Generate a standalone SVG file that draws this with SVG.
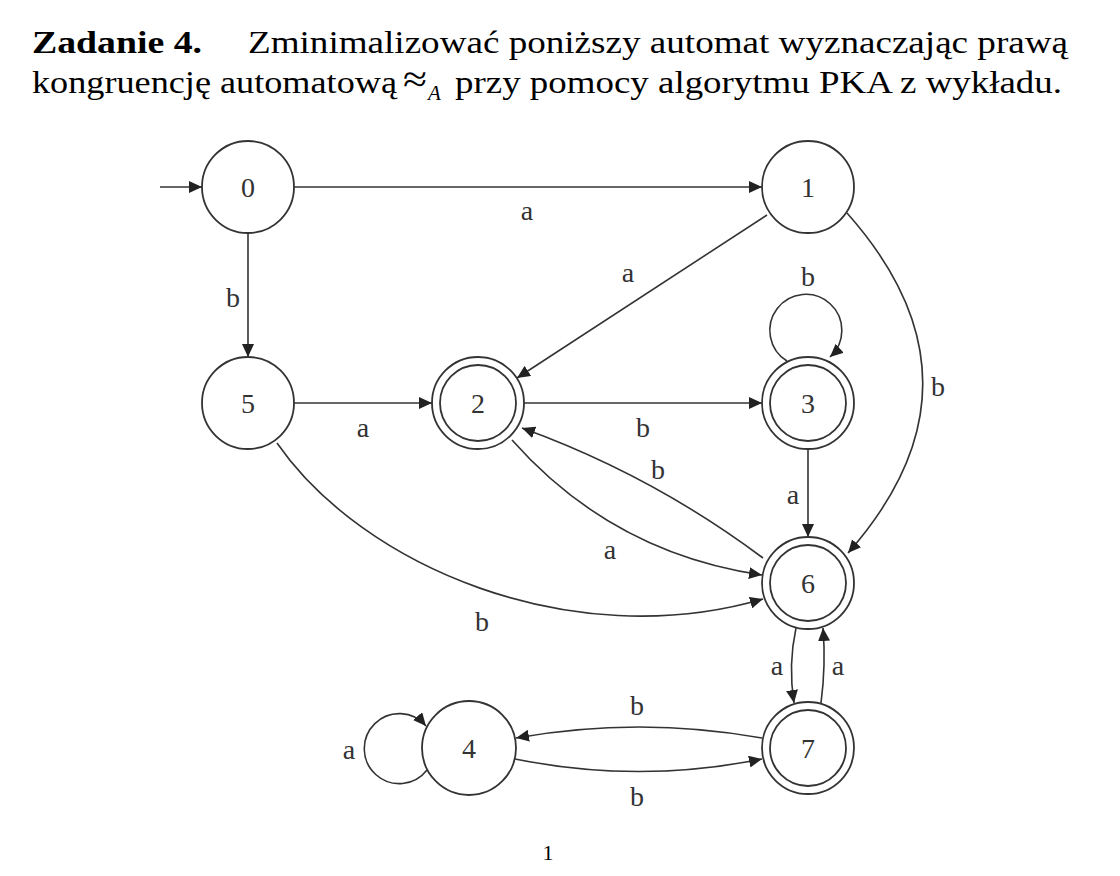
<svg xmlns="http://www.w3.org/2000/svg" width="1120" height="876" viewBox="0 0 1120 876">
<defs>
<marker id="arr" markerUnits="userSpaceOnUse" markerWidth="14" markerHeight="12" refX="13" refY="6" orient="auto">
<path d="M0,0 L13,6 L0,12 z" fill="#222"/>
</marker>
<style>
.title{font-family:"Liberation Serif","Times New Roman",serif;font-size:31px;fill:#000}
.bold{font-weight:bold}
.node circle{fill:none;stroke:#333;stroke-width:1.8}
.node text{font-family:"Liberation Serif","Times New Roman",serif;font-size:28px;fill:#333;text-anchor:middle}
.edges path{fill:none;stroke:#333;stroke-width:1.6;marker-end:url(#arr)}
.lbl{font-family:"Liberation Serif","Times New Roman",serif;font-size:28px;fill:#333;text-anchor:middle}
</style>
</defs>
<rect width="1120" height="876" fill="#fff"/>
<text class="title bold" x="32" y="53" textLength="170" lengthAdjust="spacingAndGlyphs">Zadanie 4.</text>
<text class="title" x="248" y="53" textLength="820" lengthAdjust="spacingAndGlyphs">Zminimalizować poniższy automat wyznaczając prawą</text>
<text class="title" x="32" y="93" textLength="365" lengthAdjust="spacingAndGlyphs">kongruencję automatową</text>
<text class="title" x="403" y="92" textLength="24" lengthAdjust="spacingAndGlyphs" style="font-size:38px">≈</text>
<text class="title" x="428" y="100" style="font-size:21px;font-style:italic">A</text>
<text class="title" x="455" y="93" textLength="607" lengthAdjust="spacingAndGlyphs">przy pomocy algorytmu PKA z wykładu.</text>
<g class="edges">
<path d="M160 187 L202 187"/>
<path d="M294 187 L762 187"/>
<path d="M248 233 L248 357"/>
<path d="M767 215 L517 378"/>
<path d="M294 403 L432 403"/>
<path d="M524 403 L762 403"/>
<path d="M808 449 L808 537"/>
<path d="M847 213 Q998 383 848 553"/>
<path d="M512 440 Q612 553 762 575"/>
<path d="M763 558 Q652 475 522 428"/>
<path d="M277 443 C362 566 571 655 763 599"/>
<path d="M796 628 Q788 665 794 703"/>
<path d="M821 703 Q826 665 823 628"/>
<path d="M762 738 Q639 716 516 738"/>
<path d="M515 759 Q639 784 762 759"/>
<path d="M787 361 A36 36 0 1 1 830 357"/>
<path d="M427 770 A35 35 0 1 1 426 726"/>
</g>
<g id="labels">
<text class="lbl" x="527" y="220">a</text>
<text class="lbl" x="233" y="307">b</text>
<text class="lbl" x="628" y="282">a</text>
<text class="lbl" x="808" y="286">b</text>
<text class="lbl" x="938" y="396">b</text>
<text class="lbl" x="363" y="437">a</text>
<text class="lbl" x="643" y="437">b</text>
<text class="lbl" x="658" y="479">b</text>
<text class="lbl" x="793" y="504">a</text>
<text class="lbl" x="610" y="559">a</text>
<text class="lbl" x="482" y="631">b</text>
<text class="lbl" x="777" y="675">a</text>
<text class="lbl" x="838" y="675">a</text>
<text class="lbl" x="637" y="715">b</text>
<text class="lbl" x="637" y="806">b</text>
<text class="lbl" x="349" y="759">a</text>
</g>
<g id="n0" class="node"><circle cx="248" cy="187" r="46"/><text x="248" y="197">0</text></g>
<g id="n1" class="node"><circle cx="808" cy="187" r="46"/><text x="808" y="197">1</text></g>
<g id="n5" class="node"><circle cx="248" cy="403" r="46"/><text x="248" y="413">5</text></g>
<g id="n2" class="node"><circle cx="478" cy="403" r="46"/><circle cx="478" cy="403" r="38"/><text x="478" y="413">2</text></g>
<g id="n3" class="node"><circle cx="808" cy="403" r="46"/><circle cx="808" cy="403" r="38"/><text x="808" y="413">3</text></g>
<g id="n6" class="node"><circle cx="808" cy="583" r="46"/><circle cx="808" cy="583" r="38"/><text x="808" y="593">6</text></g>
<g id="n7" class="node"><circle cx="808" cy="748" r="46"/><circle cx="808" cy="748" r="38"/><text x="808" y="758">7</text></g>
<g id="n4" class="node"><circle cx="469" cy="748" r="47"/><text x="469" y="758">4</text></g>
<text x="548" y="860" style="font-family:'Liberation Serif',serif;font-size:22px;text-anchor:middle">1</text>
</svg>
